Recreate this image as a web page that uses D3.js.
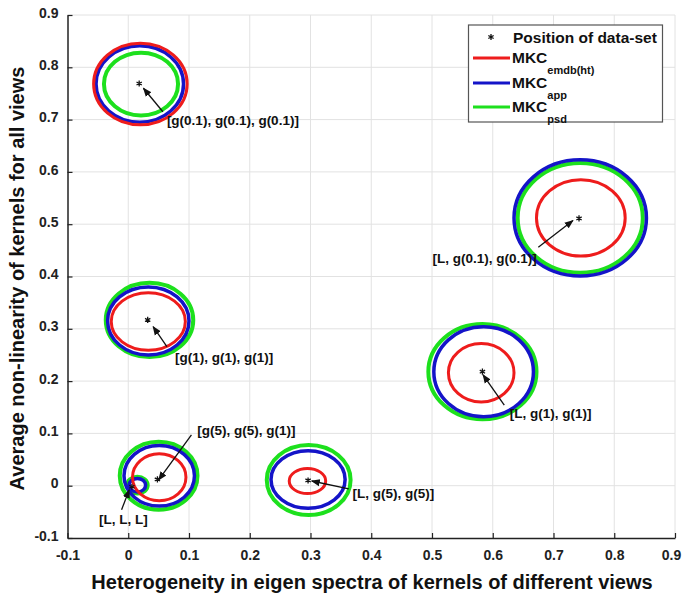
<!DOCTYPE html>
<html><head><meta charset="utf-8">
<script src="https://cdn.jsdelivr.net/npm/d3@7"></script>
<style>
body{margin:0;background:#fff;}
svg{display:block;font-family:"Liberation Sans",Arial,Helvetica,sans-serif;}
</style></head>
<body><svg id="c" width="683" height="596"></svg>
<script>
// ---------- data ----------
const xTicks = [-0.1,0,0.1,0.2,0.3,0.4,0.5,0.6,0.7,0.8,0.9];
const yTicks = [-0.1,0,0.1,0.2,0.3,0.4,0.5,0.6,0.7,0.8,0.9];
const xTickLabels = ["-0.1","0","0.1","0.2","0.3","0.4","0.5","0.6","0.7","0.8","0.9"];
const yTickLabels = ["-0.1","0","0.1","0.2","0.3","0.4","0.5","0.6","0.7","0.8","0.9"];

const datasetNames = ["[g(0.1), g(0.1), g(0.1)]","[L, g(0.1), g(0.1)]","[L, g(1), g(1)]","[g(1), g(1), g(1)]","[g(5), g(5), g(1)]","[L, L, L]","[L, g(5), g(5)]"];
const starX = [0.018, 0.742, 0.583, 0.032, 0.048, 0.006, 0.296];
const starY = [0.769, 0.511, 0.218, 0.317, 0.012, -0.002, 0.010];

// ellipse (contour) per method: centre and radii in data units
const emdbCx = [0.020, 0.745, 0.581, 0.033, 0.051, null, 0.295];
const emdbCy = [0.768, 0.512, 0.216, 0.314, 0.016, null, 0.009];
const emdbRx = [0.077, 0.073, 0.054, 0.061, 0.044, null, 0.030];
const emdbRy = [0.078, 0.073, 0.056, 0.055, 0.045, null, 0.024];

const appCx = [0.019, 0.744, 0.585, 0.033, 0.051, 0.015, 0.296];
const appCy = [0.768, 0.512, 0.218, 0.315, 0.019, 0.001, 0.012];
const appRx = [0.072, 0.109, 0.082, 0.067, 0.058, 0.0136, 0.061];
const appRy = [0.073, 0.111, 0.086, 0.065, 0.058, 0.013, 0.055];

const psdCx = [0.021, 0.744, 0.583, 0.035, 0.050, 0.015, 0.297];
const psdCy = [0.768, 0.512, 0.218, 0.317, 0.019, 0.001, 0.011];
const psdRx = [0.061, 0.103, 0.089, 0.072, 0.064, 0.017, 0.069];
const psdRy = [0.060, 0.105, 0.091, 0.071, 0.065, 0.016, 0.067];

// annotation text anchor and arrow (data units)
const labelX = [0.0636, 0.501, 0.628, 0.077, 0.1135, -0.048, 0.369];
const labelY = [0.699, 0.435, 0.138, 0.2455, 0.1065, -0.064, -0.014];
const arrowFromX = [0.057, 0.675, 0.619, 0.0636, 0.104, -0.011, 0.363];
const arrowFromY = [0.715, 0.456, 0.154, 0.266, 0.097, -0.046, -0.006];
const arrowToX = [0.025, 0.732, 0.584, 0.041, 0.050, 0.0016, 0.302];
const arrowToY = [0.760, 0.507, 0.212, 0.304, 0.011, -0.008, 0.009];

const legendNames = ["Position of data-set","MKC","MKC","MKC"];
const legendSubs = ["","emdb(ht)","app","psd"];

const xTitle = "Heterogeneity in eigen spectra of kernels of different views";
const yTitle = "Average non-linearity of kernels for all views";

// ---------- drawing ----------
const svg = d3.select("#c");
const L = 67.5, R = 675, T = 15, B = 538;
const x = d3.scaleLinear().domain([-0.1,0.9]).range([L,R]);
const y = d3.scaleLinear().domain([-0.1,0.9]).range([B,T]);

const colRed = "#ee1c1c", colBlue = "#1414c8", colGreen = "#1de01d";

// grid
const grid = svg.append("g");
grid.selectAll("line.gx").data(xTicks.slice(1)).join("line")
  .attr("x1",d=>x(d)).attr("x2",d=>x(d)).attr("y1",T).attr("y2",B)
  .attr("stroke","#e2e2e2").attr("stroke-width",1);
grid.selectAll("line.gy").data(yTicks.slice(1)).join("line")
  .attr("x1",L).attr("x2",R).attr("y1",d=>y(d)).attr("y2",d=>y(d))
  .attr("stroke","#e2e2e2").attr("stroke-width",1);

// axes
const xAxis = d3.axisBottom(x).tickValues(xTicks).tickFormat((d,i)=>xTickLabels[i]).tickSizeInner(-5).tickSizeOuter(0).tickPadding(12);
const yAxis = d3.axisLeft(y).tickValues(yTicks).tickFormat((d,i)=>yTickLabels[i]).tickSizeInner(-5).tickSizeOuter(0).tickPadding(9);
const gx = svg.append("g").attr("transform",`translate(0,${B})`).call(xAxis);
const gy = svg.append("g").attr("transform",`translate(${L},0)`).call(yAxis);
[gx,gy].forEach(g=>{
  g.select(".domain").attr("stroke","#222").attr("stroke-width",1.5);
  g.selectAll(".tick line").attr("stroke","#222").attr("stroke-width",1.2);
  g.selectAll(".tick text").attr("fill","#222").attr("font-size",14).attr("font-weight","bold")
   .attr("font-family","'Liberation Sans',Arial,sans-serif");
});
gy.selectAll(".tick text").attr("dy","0.15em");
// keep the last x label inside the picture
gx.selectAll(".tick text").filter((d,i)=>i===xTicks.length-1).attr("dx",-4);

// ellipses
function ellipses(cx,cy,rx,ry,color,w){
  const idx = d3.range(cx.length).filter(i=>cx[i]!==null);
  svg.append("g").selectAll("ellipse").data(idx).join("ellipse")
    .attr("cx",i=>x(cx[i])).attr("cy",i=>y(cy[i]))
    .attr("rx",i=>x(rx[i])-x(0)).attr("ry",i=>y(0)-y(ry[i]))
    .attr("fill","none").attr("stroke",color).attr("stroke-width",w);
}
ellipses(psdCx,psdCy,psdRx,psdRy,colGreen,4);
ellipses(appCx,appCy,appRx,appRy,colBlue,3.5);
ellipses(emdbCx,emdbCy,emdbRx,emdbRy,colRed,3);

// star markers
const ast = d3.symbolAsterisk || d3.symbolCross;
svg.append("g").selectAll("path").data(d3.range(starX.length)).join("path")
  .attr("d",d3.symbol().type(ast).size(26))
  .attr("transform",i=>`translate(${x(starX[i])},${y(starY[i])})`)
  .attr("fill","#111").attr("stroke","#111").attr("stroke-width",1.3);

// arrows
svg.append("defs").append("marker").attr("id","ah")
  .attr("viewBox","0 0 10 10").attr("refX",9).attr("refY",5)
  .attr("markerWidth",9).attr("markerHeight",9).attr("markerUnits","userSpaceOnUse")
  .attr("orient","auto")
  .append("path").attr("d","M0,1 L10,5 L0,9 Z").attr("fill","#111");
svg.append("g").selectAll("line").data(d3.range(arrowFromX.length)).join("line")
  .attr("x1",i=>x(arrowFromX[i])).attr("y1",i=>y(arrowFromY[i]))
  .attr("x2",i=>x(arrowToX[i])).attr("y2",i=>y(arrowToY[i]))
  .attr("stroke","#111").attr("stroke-width",1.3).attr("marker-end","url(#ah)");

// labels
svg.append("g").selectAll("text").data(d3.range(datasetNames.length)).join("text")
  .attr("x",i=>x(labelX[i])).attr("y",i=>y(labelY[i])).attr("dy","0.35em")
  .attr("font-size",13.5).attr("font-weight","bold").attr("fill","#111")
  .text(i=>datasetNames[i]);

// axis titles
svg.append("text").attr("x",372).attr("y",589).attr("text-anchor","middle")
  .attr("font-size",20).attr("font-weight","bold").attr("fill","#111").text(xTitle);
svg.append("text").attr("transform",`translate(24,${(T+B)/2+2}) rotate(-90)`).attr("text-anchor","middle")
  .attr("font-size",20).attr("font-weight","bold").attr("fill","#111").text(yTitle);

// legend
const lg = svg.append("g");
lg.append("rect").attr("x",468.5).attr("y",25).attr("width",194).attr("height",97)
  .attr("fill","#fff").attr("stroke","#555").attr("stroke-width",1.2);
const legColors = [null,colRed,colBlue,colGreen];
const legY = [37,58,83,107];
legendNames.forEach((nm,i)=>{
  const g = lg.append("g");
  if(i===0){
    g.append("path").attr("d",d3.symbol().type(ast).size(26))
      .attr("transform",`translate(491,${legY[i]})`).attr("fill","#111").attr("stroke","#111").attr("stroke-width",1.3);
    g.append("text").attr("x",513).attr("y",legY[i]).attr("dy","0.36em")
      .attr("font-size",15.5).attr("font-weight","bold").attr("fill","#111").text(nm);
  } else {
    g.append("line").attr("x1",473).attr("x2",510).attr("y1",legY[i]).attr("y2",legY[i])
      .attr("stroke",legColors[i]).attr("stroke-width",3);
    const t = g.append("text").attr("x",512).attr("y",legY[i]+5)
      .attr("font-size",15.5).attr("font-weight","bold").attr("fill","#111");
    t.append("tspan").text(nm);
    t.append("tspan").attr("dy",11).attr("font-size",11).text(legendSubs[i]);
  }
});
</script></body></html>
